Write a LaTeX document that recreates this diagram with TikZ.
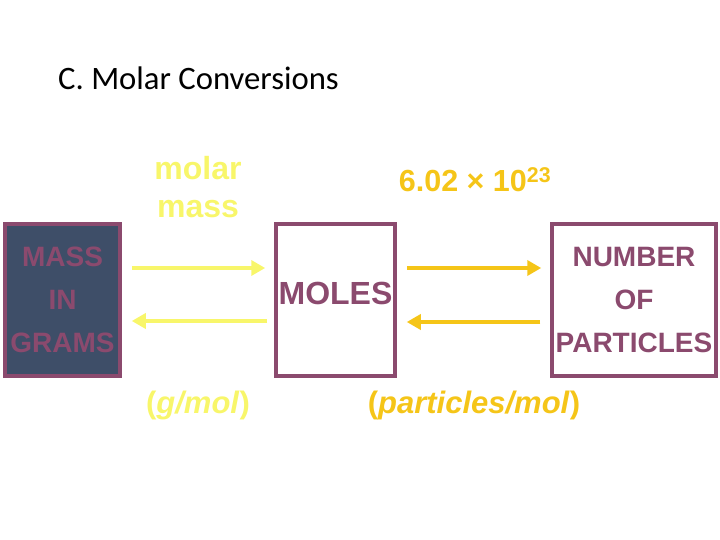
\documentclass[tikz,border=0pt]{standalone}
\usepackage{fontspec}
\setmainfont{Liberation Sans}
\newfontfamily\titlefont{Carlito}
\usetikzlibrary{arrows.meta}
\definecolor{plum}{HTML}{8B4A6E}
\definecolor{slate}{HTML}{3E4E68}
\definecolor{lightyel}{HTML}{F8F66A}
\definecolor{gold}{HTML}{F5C518}
\begin{document}
\begin{tikzpicture}[x=1pt,y=-1pt,
  box/.style={draw=plum, line width=3.5pt, inner sep=0pt, align=center, text=plum,
    minimum height=152pt},
  lbl/.style={font=\bfseries\fontsize{28}{43}\selectfont},
  yarrow/.style={draw=lightyel, line width=4pt, -{Triangle[length=14pt,width=15pt]}},
  garrow/.style={draw=gold, line width=4pt, -{Triangle[length=14pt,width=15pt]}},
  conv/.style={font=\bfseries\fontsize{31}{38}\selectfont, align=center, inner sep=0pt}
]
\useasboundingbox (0,0) rectangle (720,540);
\node[anchor=base west, inner sep=0pt, font=\titlefont\fontsize{32.7}{38}\selectfont] (title) at (58,90) {C. Molar Conversions};

\node[box, lbl, fill=slate, minimum width=115pt] (mass) at (62.5,300) {MASS\\IN\\GRAMS};
\node[box, font=\bfseries\fontsize{32}{38}\selectfont, minimum width=119pt] (moles) at (335.5,300) {MOLES\\[-24pt]};
\node[box, lbl, minimum width=164pt] (num) at (634,300) {NUMBER\\OF\\PARTICLES};

\draw[yarrow] ([xshift=10pt,yshift=32pt]mass.east) -- ([xshift=-9pt,yshift=32pt]moles.west);
\draw[yarrow] ([xshift=-7pt,yshift=-21pt]moles.west) -- ([xshift=10pt,yshift=-21pt]mass.east);
\draw[garrow] ([xshift=10pt,yshift=32pt]moles.east) -- ([xshift=-9pt,yshift=32pt]num.west);
\draw[garrow] ([xshift=-10pt,yshift=-22pt]num.west) -- ([xshift=10pt,yshift=-22pt]moles.east);

\node[conv, text=lightyel, font=\bfseries\fontsize{32}{38}\selectfont] (mm) at (198,187) {molar\\mass};
\node[conv, text=gold, font=\bfseries\fontsize{30.5}{34}\selectfont] (avo) at (475,180) {6.02 × 10\textsuperscript{23}};
\node[conv, text=lightyel] (gmol) at (198,405) {(\textit{g/mol})};
\node[conv, text=gold] (pmol) at (474,405) {(\textit{particles/mol})};
\end{tikzpicture}
\end{document}
